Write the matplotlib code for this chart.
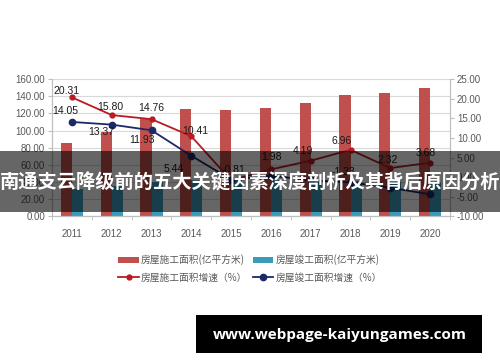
import matplotlib
matplotlib.use("Agg")
import matplotlib.pyplot as plt
from matplotlib.patches import Rectangle
import numpy as np

plt.rcParams['font.family'] = ['Liberation Sans', 'Noto Sans CJK SC', 'DejaVu Sans']

years = ['2011', '2012', '2013', '2014', '2015', '2016', '2017', '2018', '2019', '2020']
construction_area = [85.18, 98.68, 113.27, 124.98, 124.26, 126.43, 131.72, 140.89, 144.16, 149.47]
completed_area = [31.64, 35.87, 40.15, 42.34, 42.08, 42.24, 41.91, 41.35, 40.24, 38.48]
construction_growth = [20.31, 15.80, 14.76, 10.41, -0.81, 1.98, 4.19, 6.96, 2.32, 3.68]
completed_growth = [14.05, 13.37, 11.93, 5.44, -0.61, 0.38, -0.78, -1.33, -2.68, -4.37]

legend_labels = ['房屋施工面积(亿平方米)', '房屋竣工面积(亿平方米)',
                 '房屋施工面积增速（%）', '房屋竣工面积增速（%）']
banner_title = '南通支云降级前的五大关键因素深度剖析及其背后原因分析'
watermark = 'www.webpage-kaiyungames.com'

# label offsets in pixels (style); None = label hidden behind the banner
red_off = [(-5, 6), (-1, 8), (0, 11), (4, 5), (2, 10), (1, 12), (-8, 10), (-9, 9), (-3, 8), (-4, 10)]
blue_off = [(-7, 11), (-10, -7), (-10, -10), (-18, -13), None, None, None, (-7, 10), None, None]

RED = '#c0504d'
TEAL = '#3b9cba'
RLINE = '#b81c22'
BLINE = '#1b2a66'
GRAY = '#595959'

fig = plt.figure(figsize=(5.0, 3.62), dpi=100)
ax = fig.add_axes([0.104, 0.402, 0.796, 0.380])
ax2 = ax.twinx()

x = np.arange(len(years))
w = 0.28
ax.bar(x - w / 2, construction_area, w, color=RED, zorder=2, label=legend_labels[0])
ax.bar(x + w / 2, completed_area, w, color=TEAL, zorder=2, label=legend_labels[1])
ax.set_ylim(0, 160)
ax.set_yticks(np.arange(0, 161, 20))
ax.set_yticklabels([f'{v:.2f}' for v in np.arange(0, 161, 20)])
ax.set_xlim(-0.5, len(years) - 0.5)
ax.set_xticks(x)
ax.set_xticklabels(years)
ax.set_xticks(np.arange(-0.5, len(years), 1), minor=True)
ax.tick_params(axis='x', which='major', length=0, pad=9, labelsize=7, colors=GRAY)
ax.tick_params(axis='x', which='minor', length=3, color='#bfbfbf')
ax.tick_params(axis='y', length=3, labelsize=7, colors=GRAY, color='#bfbfbf', pad=2)
ax.grid(axis='y', color='#d9d9d9', linewidth=0.8, zorder=0)
ax.set_axisbelow(True)
for a in (ax, ax2):
    a.spines['top'].set_visible(False)
    for s in ['left', 'bottom', 'right']:
        a.spines[s].set_color('#bfbfbf')

l1, = ax2.plot(x, construction_growth, color=RLINE, lw=1.3, marker='o', ms=3.5, zorder=4,
               label=legend_labels[2])
l2, = ax2.plot(x, completed_growth, color=BLINE, lw=1.3, marker='o', ms=4.5, zorder=4,
               label=legend_labels[3])
ax2.set_ylim(-10, 25)
ax2.set_yticks(np.arange(-10, 26, 5))
ax2.set_yticklabels([f'{v:.2f}' for v in np.arange(-10, 26, 5)])
ax2.tick_params(axis='y', length=3, labelsize=7, colors=GRAY, color='#bfbfbf', pad=2)

for i in range(len(years)):
    if red_off[i] is not None:
        ax2.annotate(f'{construction_growth[i]:.2f}', (x[i], construction_growth[i]),
                     xytext=(red_off[i][0] * 0.72, red_off[i][1] * 0.72), textcoords='offset points',
                     ha='center', va='center', fontsize=7.5, color='#1a1a1a', zorder=5)
    if blue_off[i] is not None:
        ax2.annotate(f'{completed_growth[i]:.2f}', (x[i], completed_growth[i]),
                     xytext=(blue_off[i][0] * 0.72, blue_off[i][1] * 0.72), textcoords='offset points',
                     ha='center', va='center', fontsize=7.5, color='#1a1a1a', zorder=5)

h1, lab1 = ax.get_legend_handles_labels()
handles = [h1[0], l1, h1[1], l2]
labels = [legend_labels[0], legend_labels[2], legend_labels[1], legend_labels[3]]
leg = fig.legend(handles, labels, loc='center', bbox_to_anchor=(0.5, 0.258), ncol=2,
                 frameon=False, fontsize=7, handlelength=2.1, handletextpad=0.2,
                 columnspacing=0.6, labelspacing=0.75)
for t in leg.get_texts():
    t.set_color(GRAY)
    t.set_family(['Noto Sans CJK SC', 'DejaVu Sans'])

# banner overlay
fig.add_artist(Rectangle((0, 1 - 212 / 362), 1, 61 / 362, transform=fig.transFigure,
                         facecolor='black', alpha=0.6, edgecolor='none', zorder=10))
fig.text(0.5, 1 - 183 / 362, banner_title, ha='center', va='center', color='white',
         fontsize=13.9, fontweight='bold', family=['Noto Sans CJK SC', 'DejaVu Sans'], zorder=11)

# watermark box
fig.add_artist(Rectangle((196 / 500, 1 - 353 / 362), 286 / 500, 38 / 362, transform=fig.transFigure,
                         facecolor='black', edgecolor='none', zorder=10))
fig.text(340 / 500, 1 - 335 / 362, watermark, ha='center', va='center', color='white',
         fontsize=11, fontweight='bold', family=['Open Sans', 'DejaVu Sans'], zorder=11)

fig.savefig('out.png', dpi=100)
